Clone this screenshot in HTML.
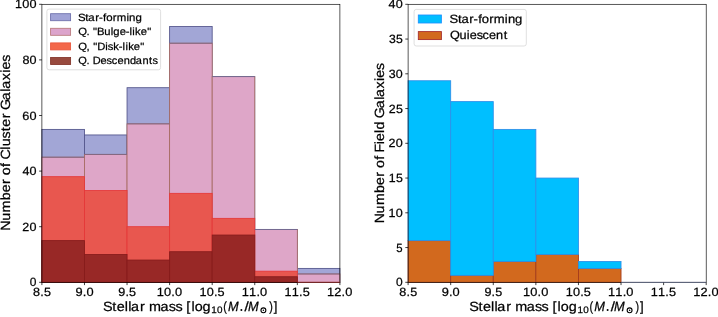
<!DOCTYPE html>
<html><head><meta charset="utf-8"><style>
html,body{margin:0;padding:0;background:#fff;width:718px;height:317px;overflow:hidden}
svg{display:block;filter:blur(0.4px)}
text{font-family:"Liberation Sans",sans-serif;fill:#000;font-kerning:none;font-variant-ligatures:none;text-rendering:geometricPrecision}
</style></head><body>
<svg width="718" height="317" viewBox="0 0 718 317">
<rect width="718" height="317" fill="#fff"/>
<rect x="41.9" y="129.4" width="42.57" height="152.9" fill="#a2a6d6" stroke="#52548a" stroke-width="0.85"/>
<rect x="84.47" y="134.96" width="42.57" height="147.34" fill="#a2a6d6" stroke="#52548a" stroke-width="0.85"/>
<rect x="127.04" y="87.7" width="42.57" height="194.6" fill="#a2a6d6" stroke="#52548a" stroke-width="0.85"/>
<rect x="169.61" y="26.54" width="42.57" height="255.76" fill="#a2a6d6" stroke="#52548a" stroke-width="0.85"/>
<rect x="212.19" y="76.58" width="42.57" height="205.72" fill="#a2a6d6" stroke="#52548a" stroke-width="0.85"/>
<rect x="254.76" y="229.48" width="42.57" height="52.82" fill="#a2a6d6" stroke="#52548a" stroke-width="0.85"/>
<rect x="297.33" y="268.4" width="42.57" height="13.9" fill="#a2a6d6" stroke="#52548a" stroke-width="0.85"/>
<rect x="41.9" y="157.2" width="42.57" height="125.1" fill="#dea6c8" stroke="#a86c62" stroke-width="0.85"/>
<rect x="84.47" y="154.42" width="42.57" height="127.88" fill="#dea6c8" stroke="#a86c62" stroke-width="0.85"/>
<rect x="127.04" y="123.84" width="42.57" height="158.46" fill="#dea6c8" stroke="#a86c62" stroke-width="0.85"/>
<rect x="169.61" y="43.22" width="42.57" height="239.08" fill="#dea6c8" stroke="#a86c62" stroke-width="0.85"/>
<rect x="212.19" y="76.58" width="42.57" height="205.72" fill="#dea6c8" stroke="#a86c62" stroke-width="0.85"/>
<rect x="254.76" y="229.48" width="42.57" height="52.82" fill="#dea6c8" stroke="#a86c62" stroke-width="0.85"/>
<rect x="297.33" y="273.96" width="42.57" height="8.34" fill="#dea6c8" stroke="#a86c62" stroke-width="0.85"/>
<rect x="41.9" y="176.66" width="42.57" height="105.64" fill="#e8574f" stroke="#e63838" stroke-width="0.85"/>
<rect x="84.47" y="190.56" width="42.57" height="91.74" fill="#e8574f" stroke="#e63838" stroke-width="0.85"/>
<rect x="127.04" y="226.7" width="42.57" height="55.6" fill="#e8574f" stroke="#e63838" stroke-width="0.85"/>
<rect x="169.61" y="193.34" width="42.57" height="88.96" fill="#e8574f" stroke="#e63838" stroke-width="0.85"/>
<rect x="212.19" y="218.36" width="42.57" height="63.94" fill="#e8574f" stroke="#e63838" stroke-width="0.85"/>
<rect x="254.76" y="271.18" width="42.57" height="11.12" fill="#e8574f" stroke="#e63838" stroke-width="0.85"/>
<rect x="41.9" y="240.6" width="42.57" height="41.7" fill="#982826" stroke="#861c1c" stroke-width="0.85"/>
<rect x="84.47" y="254.5" width="42.57" height="27.8" fill="#982826" stroke="#861c1c" stroke-width="0.85"/>
<rect x="127.04" y="260.06" width="42.57" height="22.24" fill="#982826" stroke="#861c1c" stroke-width="0.85"/>
<rect x="169.61" y="251.72" width="42.57" height="30.58" fill="#982826" stroke="#861c1c" stroke-width="0.85"/>
<rect x="212.19" y="235.04" width="42.57" height="47.26" fill="#982826" stroke="#861c1c" stroke-width="0.85"/>
<rect x="254.76" y="276.74" width="42.57" height="5.56" fill="#982826" stroke="#861c1c" stroke-width="0.85"/>
<line x1="41.9" y1="157.2" x2="84.47" y2="157.2" stroke="#7a6486" stroke-width="0.85"/>
<line x1="84.47" y1="154.42" x2="127.04" y2="154.42" stroke="#7a6486" stroke-width="0.85"/>
<line x1="127.04" y1="123.84" x2="169.61" y2="123.84" stroke="#7a6486" stroke-width="0.85"/>
<line x1="169.61" y1="43.22" x2="212.19" y2="43.22" stroke="#7a6486" stroke-width="0.85"/>
<line x1="212.19" y1="76.58" x2="254.76" y2="76.58" stroke="#6a6a9a" stroke-width="0.85"/>
<line x1="254.76" y1="229.48" x2="297.33" y2="229.48" stroke="#6a6a9a" stroke-width="0.85"/>
<line x1="297.33" y1="273.96" x2="339.9" y2="273.96" stroke="#7a6486" stroke-width="0.85"/>
<rect x="408.1" y="240.6" width="42.59" height="41.7" fill="#d2691e" stroke="#a33a1c" stroke-width="0.85"/>
<rect x="450.69" y="275.35" width="42.59" height="6.95" fill="#d2691e" stroke="#a33a1c" stroke-width="0.85"/>
<rect x="493.27" y="261.45" width="42.59" height="20.85" fill="#d2691e" stroke="#a33a1c" stroke-width="0.85"/>
<rect x="535.86" y="254.5" width="42.59" height="27.8" fill="#d2691e" stroke="#a33a1c" stroke-width="0.85"/>
<rect x="578.44" y="268.4" width="42.59" height="13.9" fill="#d2691e" stroke="#a33a1c" stroke-width="0.85"/>
<rect x="408.1" y="80.75" width="42.59" height="159.85" fill="#00bfff" stroke="#2d8fe8" stroke-width="0.85"/>
<rect x="450.69" y="101.6" width="42.59" height="173.75" fill="#00bfff" stroke="#2d8fe8" stroke-width="0.85"/>
<rect x="493.27" y="129.4" width="42.59" height="132.05" fill="#00bfff" stroke="#2d8fe8" stroke-width="0.85"/>
<rect x="535.86" y="178.05" width="42.59" height="76.45" fill="#00bfff" stroke="#2d8fe8" stroke-width="0.85"/>
<rect x="578.44" y="261.45" width="42.59" height="6.95" fill="#00bfff" stroke="#2d8fe8" stroke-width="0.85"/>
<rect x="41.9" y="4.3" width="298" height="278" fill="none" stroke="#000" stroke-width="0.65"/>
<line x1="41.9" y1="282.3" x2="41.9" y2="285.1" stroke="#000" stroke-width="0.75"/>
<line x1="84.47" y1="282.3" x2="84.47" y2="285.1" stroke="#000" stroke-width="0.75"/>
<line x1="127.04" y1="282.3" x2="127.04" y2="285.1" stroke="#000" stroke-width="0.75"/>
<line x1="169.61" y1="282.3" x2="169.61" y2="285.1" stroke="#000" stroke-width="0.75"/>
<line x1="212.19" y1="282.3" x2="212.19" y2="285.1" stroke="#000" stroke-width="0.75"/>
<line x1="254.76" y1="282.3" x2="254.76" y2="285.1" stroke="#000" stroke-width="0.75"/>
<line x1="297.33" y1="282.3" x2="297.33" y2="285.1" stroke="#000" stroke-width="0.75"/>
<line x1="339.9" y1="282.3" x2="339.9" y2="285.1" stroke="#000" stroke-width="0.75"/>
<line x1="39.1" y1="282.3" x2="41.9" y2="282.3" stroke="#000" stroke-width="0.75"/>
<line x1="39.1" y1="226.7" x2="41.9" y2="226.7" stroke="#000" stroke-width="0.75"/>
<line x1="39.1" y1="171.1" x2="41.9" y2="171.1" stroke="#000" stroke-width="0.75"/>
<line x1="39.1" y1="115.5" x2="41.9" y2="115.5" stroke="#000" stroke-width="0.75"/>
<line x1="39.1" y1="59.9" x2="41.9" y2="59.9" stroke="#000" stroke-width="0.75"/>
<line x1="39.1" y1="4.3" x2="41.9" y2="4.3" stroke="#000" stroke-width="0.75"/>
<rect x="408.1" y="4.3" width="298.1" height="278" fill="none" stroke="#000" stroke-width="0.65"/>
<line x1="408.1" y1="282.3" x2="408.1" y2="285.1" stroke="#000" stroke-width="0.75"/>
<line x1="450.69" y1="282.3" x2="450.69" y2="285.1" stroke="#000" stroke-width="0.75"/>
<line x1="493.27" y1="282.3" x2="493.27" y2="285.1" stroke="#000" stroke-width="0.75"/>
<line x1="535.86" y1="282.3" x2="535.86" y2="285.1" stroke="#000" stroke-width="0.75"/>
<line x1="578.44" y1="282.3" x2="578.44" y2="285.1" stroke="#000" stroke-width="0.75"/>
<line x1="621.03" y1="282.3" x2="621.03" y2="285.1" stroke="#000" stroke-width="0.75"/>
<line x1="663.61" y1="282.3" x2="663.61" y2="285.1" stroke="#000" stroke-width="0.75"/>
<line x1="706.2" y1="282.3" x2="706.2" y2="285.1" stroke="#000" stroke-width="0.75"/>
<line x1="405.3" y1="282.3" x2="408.1" y2="282.3" stroke="#000" stroke-width="0.75"/>
<line x1="405.3" y1="247.55" x2="408.1" y2="247.55" stroke="#000" stroke-width="0.75"/>
<line x1="405.3" y1="212.8" x2="408.1" y2="212.8" stroke="#000" stroke-width="0.75"/>
<line x1="405.3" y1="178.05" x2="408.1" y2="178.05" stroke="#000" stroke-width="0.75"/>
<line x1="405.3" y1="143.3" x2="408.1" y2="143.3" stroke="#000" stroke-width="0.75"/>
<line x1="405.3" y1="108.55" x2="408.1" y2="108.55" stroke="#000" stroke-width="0.75"/>
<line x1="405.3" y1="73.8" x2="408.1" y2="73.8" stroke="#000" stroke-width="0.75"/>
<line x1="405.3" y1="39.05" x2="408.1" y2="39.05" stroke="#000" stroke-width="0.75"/>
<line x1="405.3" y1="4.3" x2="408.1" y2="4.3" stroke="#000" stroke-width="0.75"/>
<line x1="297.33" y1="282.3" x2="339.9" y2="282.3" stroke="#e63838" stroke-width="0.85" stroke-opacity="0.45"/>
<line x1="297.33" y1="282.3" x2="339.9" y2="282.3" stroke="#861c1c" stroke-width="0.85" stroke-opacity="0.45"/>
<line x1="621.03" y1="282.3" x2="663.61" y2="282.3" stroke="#a33a1c" stroke-width="0.85" stroke-opacity="0.45"/>
<line x1="663.61" y1="282.3" x2="706.2" y2="282.3" stroke="#a33a1c" stroke-width="0.85" stroke-opacity="0.45"/>
<line x1="621.03" y1="282.3" x2="663.61" y2="282.3" stroke="#2d8fe8" stroke-width="0.85" stroke-opacity="0.45"/>
<line x1="663.61" y1="282.3" x2="706.2" y2="282.3" stroke="#2d8fe8" stroke-width="0.85" stroke-opacity="0.45"/>
<circle cx="241.4" cy="310" r="1" fill="#000"/>
<circle cx="263.4" cy="310.3" r="2.45" fill="none" stroke="#000" stroke-width="1.1"/>
<circle cx="263.4" cy="310.3" r="0.75" fill="#000"/>
<circle cx="607.6" cy="310" r="1" fill="#000"/>
<circle cx="629.6" cy="310.3" r="2.45" fill="none" stroke="#000" stroke-width="1.1"/>
<circle cx="629.6" cy="310.3" r="0.75" fill="#000"/>
<rect x="46.9" y="9.1" width="113.7" height="60.7" rx="2.2" fill="#fff" fill-opacity="0.8" stroke="#d4d4d4" stroke-width="0.75"/>
<rect x="50.6" y="13.7" width="20" height="7" fill="#a0a3d6" stroke="#6c6eaa" stroke-width="0.85"/>
<rect x="50.6" y="28.3" width="20" height="7" fill="#dca4cc" stroke="#b8787a" stroke-width="0.85"/>
<rect x="50.6" y="42.9" width="20" height="7" fill="#f3684a" stroke="#e8553a" stroke-width="0.85"/>
<rect x="50.6" y="57.5" width="20" height="7" fill="#984a3e" stroke="#843428" stroke-width="0.85"/>
<rect x="414.1" y="9.4" width="112.2" height="36.6" rx="2.2" fill="#fff" fill-opacity="0.8" stroke="#d4d4d4" stroke-width="0.75"/>
<rect x="418.3" y="15" width="23.1" height="8" fill="#00bfff" stroke="#1e90ff" stroke-width="0.85"/>
<rect x="418.3" y="31.6" width="23.1" height="8" fill="#d2691e" stroke="#a52a2a" stroke-width="0.85"/>
<g opacity="0.999" stroke="#000" stroke-width="0.25">
<text transform="matrix(1.05 0 0 1 33.18 295.95)" x="-0.09 6.77 10.25" y="0" font-size="11.97" style="">8.5</text>
<text transform="matrix(1.07 0 0 1 75.55 295.95)" x="-0.08 6.72 10.15" y="0" font-size="11.97" style="">9.0</text>
<text transform="matrix(1.05 0 0 1 118.24 295.95)" x="-0.04 6.81 10.27" y="0" font-size="11.97" style="">9.5</text>
<text transform="matrix(1.07 0 0 1 156.96 295.95)" x="-0.26 6.61 13.37 16.81" y="0" font-size="11.97" style="">10.0</text>
<text transform="matrix(1.06 0 0 1 199.65 295.95)" x="-0.24 6.69 13.49 16.93" y="0" font-size="11.97" style="">10.5</text>
<text transform="matrix(1.07 0 0 1 242.1 295.95)" x="-0.26 6.54 13.37 16.81" y="0" font-size="11.97" style="">11.0</text>
<text transform="matrix(1.06 0 0 1 284.8 295.87)" x="-0.24 6.62 13.49 16.93" y="0" font-size="11.97" style="">11.5</text>
<text transform="matrix(1.07 0 0 1 327.24 295.95)" x="-0.26 6.47 13.37 16.81" y="0" font-size="11.97" style="">12.0</text>
<text transform="matrix(1 0 0 1 29.79 286.45)" x="0" y="0" font-size="11.97" style="">0</text>
<text transform="matrix(1.05 0 0 1 22.45 230.85)" x="-0.22 6.79" y="0" font-size="11.97" style="">20</text>
<text transform="matrix(1.05 0 0 1 22.52 175.25)" x="-0.13 6.78" y="0" font-size="11.97" style="">40</text>
<text transform="matrix(1.06 0 0 1 22.4 119.65)" x="-0.05 6.8" y="0" font-size="11.97" style="">60</text>
<text transform="matrix(1.05 0 0 1 22.48 64.05)" x="-0.1 6.79" y="0" font-size="11.97" style="">80</text>
<text transform="matrix(1.06 0 0 1 15.28 8.45)" x="-0.25 6.64 13.47" y="0" font-size="11.97" style="">100</text>
<text transform="matrix(1.05 0 0 1 399.38 295.95)" x="-0.09 6.77 10.25" y="0" font-size="11.97" style="">8.5</text>
<text transform="matrix(1.07 0 0 1 441.76 295.95)" x="-0.08 6.72 10.15" y="0" font-size="11.97" style="">9.0</text>
<text transform="matrix(1.05 0 0 1 484.47 295.95)" x="-0.04 6.81 10.27" y="0" font-size="11.97" style="">9.5</text>
<text transform="matrix(1.07 0 0 1 523.2 295.95)" x="-0.26 6.61 13.37 16.81" y="0" font-size="11.97" style="">10.0</text>
<text transform="matrix(1.06 0 0 1 565.91 295.95)" x="-0.24 6.69 13.49 16.93" y="0" font-size="11.97" style="">10.5</text>
<text transform="matrix(1.07 0 0 1 608.37 295.95)" x="-0.26 6.54 13.37 16.81" y="0" font-size="11.97" style="">11.0</text>
<text transform="matrix(1.06 0 0 1 651.08 295.87)" x="-0.24 6.62 13.49 16.93" y="0" font-size="11.97" style="">11.5</text>
<text transform="matrix(1.07 0 0 1 693.54 295.95)" x="-0.26 6.47 13.37 16.81" y="0" font-size="11.97" style="">12.0</text>
<text transform="matrix(1 0 0 1 395.99 286.45)" x="0" y="0" font-size="11.97" style="">0</text>
<text transform="matrix(0.95 0 0 1 396.37 251.62)" x="0" y="0" font-size="11.97" style="">5</text>
<text transform="matrix(1.05 0 0 1 388.75 216.95)" x="-0.22 6.77" y="0" font-size="11.97" style="">10</text>
<text transform="matrix(1.03 0 0 1 389 182.12)" x="-0.18 6.88" y="0" font-size="11.97" style="">15</text>
<text transform="matrix(1.05 0 0 1 388.65 147.45)" x="-0.22 6.79" y="0" font-size="11.97" style="">20</text>
<text transform="matrix(1.04 0 0 1 388.9 112.7)" x="-0.18 6.9" y="0" font-size="11.97" style="">25</text>
<text transform="matrix(1.04 0 0 1 388.85 77.95)" x="-0.21 6.76" y="0" font-size="11.97" style="">30</text>
<text transform="matrix(1.02 0 0 1 389.09 43.2)" x="-0.16 6.87" y="0" font-size="11.97" style="">35</text>
<text transform="matrix(1.05 0 0 1 388.72 8.45)" x="-0.13 6.78" y="0" font-size="11.97" style="">40</text>
<text transform="matrix(0 -1.07 1 0 9.8 230.26)" x="-0.44 8.87 16.66 28.12 35.52 43.3 47.8 51.49 59.22 63.07 66.08 75.3 78.48 85.84 92.64 96.84 104.62 109.12 112.3 121.57 129.56 132.17 140.16 147.22 150.33 157.53" y="0" font-size="13.33" style="">Number of Cluster Galaxies</text>
<text transform="matrix(0 -1.06 1 0 383.8 222.84)" x="-0.43 8.92 16.74 28.24 35.67 43.48 47.99 51.7 59.46 63.32 66.39 74.13 77.26 84.8 87.97 95.58 98.79 108.08 116.1 118.73 126.75 133.83 136.96 144.19" y="0" font-size="13.33" style="">Number of Field Galaxies</text>
<text transform="matrix(1.08 0 0 1 103.95 310.6)" x="-0.82 7.73 11.86 19.32 22.6 25.15 33.34 37.79 41.73 52.43 60.03 66.17 72.5 76.18 80.98 83.99 91.27" y="0" font-size="13.33" style="">Stellar mass [log</text>
<text transform="matrix(1.05 0 0 1 211.35 312.7)" x="-0.17 5.35" y="0" font-size="9.45" style="">10</text>
<text transform="matrix(0.81 0 0 1 223.23 310.6)" x="0" y="0" font-size="13.33" style="">(</text>
<text transform="matrix(0.96 0 0 1 228.01 310.6)" x="0" y="0" font-size="13.33" style="font-style:italic;">M</text>
<text transform="matrix(1.15 0 0 1 244.5 310.6)" x="0" y="0" font-size="13.33" style="">/</text>
<text transform="matrix(0.96 0 0 1 247.91 310.6)" x="0" y="0" font-size="13.33" style="font-style:italic;">M</text>
<text transform="matrix(0.81 0 0 1 269.24 310.6)" x="0" y="0" font-size="13.33" style="">)</text>
<text transform="matrix(0.99 0 0 1 273.7 310.6)" x="0" y="0" font-size="13.33" style="">]</text>
<text transform="matrix(1.08 0 0 1 470.15 310.6)" x="-0.82 7.73 11.86 19.32 22.6 25.15 33.34 37.79 41.73 52.43 60.03 66.17 72.5 76.18 80.98 83.99 91.27" y="0" font-size="13.33" style="">Stellar mass [log</text>
<text transform="matrix(1.05 0 0 1 577.55 312.7)" x="-0.17 5.35" y="0" font-size="9.45" style="">10</text>
<text transform="matrix(0.81 0 0 1 589.43 310.6)" x="0" y="0" font-size="13.33" style="">(</text>
<text transform="matrix(0.96 0 0 1 594.21 310.6)" x="0" y="0" font-size="13.33" style="font-style:italic;">M</text>
<text transform="matrix(1.15 0 0 1 610.7 310.6)" x="0" y="0" font-size="13.33" style="">/</text>
<text transform="matrix(0.96 0 0 1 614.11 310.6)" x="0" y="0" font-size="13.33" style="font-style:italic;">M</text>
<text transform="matrix(0.81 0 0 1 635.44 310.6)" x="0" y="0" font-size="13.33" style="">)</text>
<text transform="matrix(0.99 0 0 1 639.9 310.6)" x="0" y="0" font-size="13.33" style="">]</text>
<text transform="matrix(1.09 0 0 1 78.68 20.5)" x="-0.66 6.03 8.86 15.26 18.66 22.34 25.21 31.24 34.86 43.81 46.26 52.04" y="0" font-size="10.5" style="">Star-forming</text>
<text transform="matrix(1.07 0 0 1 78.67 35.1)" x="-0.44 7.33 10.29 13.51 17.19 23.93 29.95 32.4 38.29 43.99 47.55 50.14 52.72 57.96 64.01" y="0" font-size="10.5" style="">Q. &quot;Bulge-like&quot;</text>
<text transform="matrix(1.07 0 0 1 78.67 49.7)" x="-0.44 7.25 10.31 13.53 17.35 24.86 27.19 32.31 37.52 41.08 43.68 46.26 51.51 57.57" y="0" font-size="10.5" style="">Q, &quot;Disk-like&quot;</text>
<text transform="matrix(1.05 0 0 1 78.68 64.3)" x="-0.37 7.5 10.54 13.39 20.86 26.62 31.53 36.91 42.86 48.82 54.44 60.77 67.06 70.34" y="0" font-size="10.5" style="">Q. Descendants</text>
<text transform="matrix(1.09 0 0 1 450.41 22.7)" x="-0.75 6.88 10.1 17.4 21.27 25.47 28.74 35.61 39.74 49.94 52.74 59.32" y="0" font-size="11.97" style="">Star-forming</text>
<text transform="matrix(1.06 0 0 1 450.4 39.3)" x="-0.45 8.5 15.43 18.25 24.76 30.31 36.4 43.13 50.26" y="0" font-size="11.97" style="">Quiescent</text>
</g>
</svg>
</body></html>
